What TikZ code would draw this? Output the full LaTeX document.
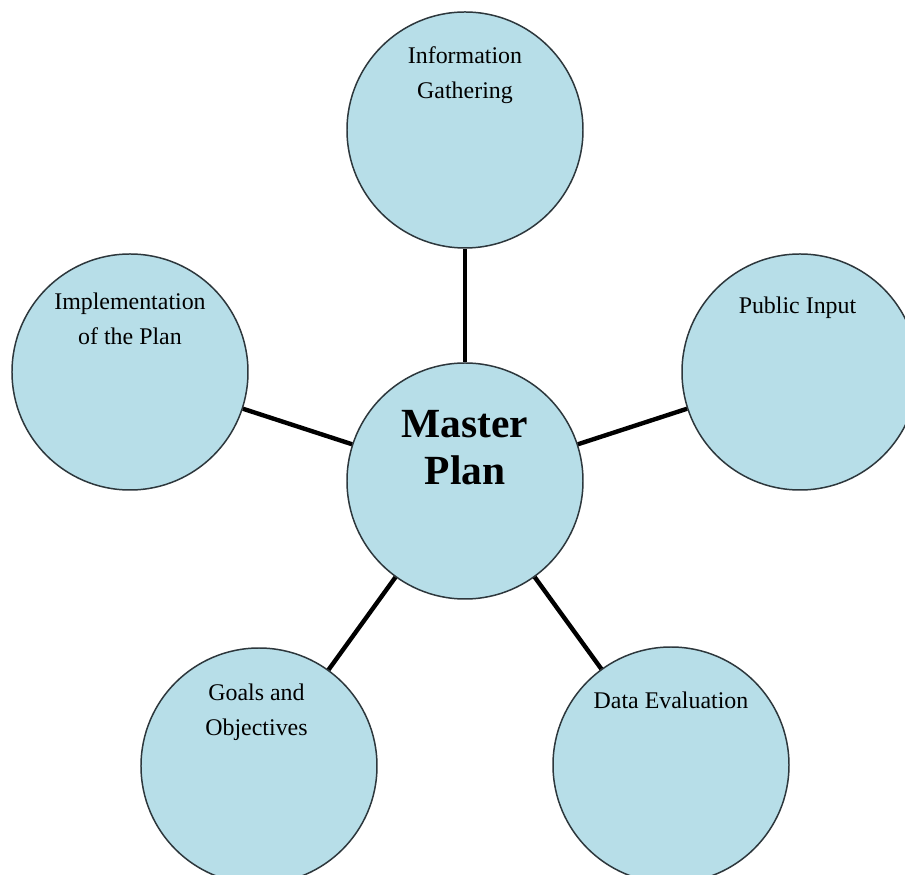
\documentclass[tikz,border=0pt]{standalone}
\usepackage{fontspec}
\setmainfont{Liberation Serif}
\usepackage{xcolor}
\usepackage{tikz}
\definecolor{bubblefill}{RGB}{183,222,232}
\definecolor{bubbleedge}{RGB}{45,55,60}

\begin{document}
\begin{tikzpicture}[
  bubble/.style={circle, fill=bubblefill, draw=bubbleedge, line width=0.85pt,
                 minimum size=4.72cm, inner sep=0pt},
  spoke/.style={line width=2.5pt, black},
  smalltext/.style={align=center, inner sep=0pt,
                 font=\fontsize{13.6}{19.8}\selectfont},
  bigtext/.style={align=center, inner sep=0pt,
                 font=\fontsize{23.6}{26.6}\selectfont\bfseries}]

% Fix the page to the picture
\clip (-9.30,-7.88) rectangle (8.80,9.62);
\fill[white] (-9.30,-7.88) rectangle (8.80,9.62);

% The circles
\node[bubble] (master) at (0,0) {};
\node[bubble] (info)   at (0,7.02) {};
\node[bubble] (impl)   at (-6.70,2.18) {};
\node[bubble] (public) at (6.70,2.18) {};
\node[bubble] (goals)  at (-4.12,-5.70) {};
\node[bubble] (data)   at (4.12,-5.68) {};

% Connect the master plan to the others
\draw[spoke] (master) -- (info);
\draw[spoke] (master) -- (impl);
\draw[spoke] (master) -- (public);
\draw[spoke] (master) -- (goals);
\draw[spoke] (master) -- (data);

% Place the labels
\node[bigtext]   (mastertxt) at ([yshift=0.66cm]master.center) {Master\\Plan};
\node[smalltext] (infotxt)   at ([yshift=1.10cm]info.center) {Information\\Gathering};
\node[smalltext] (impltxt)   at ([yshift=1.06cm]impl.center) {Implementation\\of the Plan};
\node[smalltext] (pubtxt)    at ([xshift=-0.05cm,yshift=1.28cm]public.center) {Public Input};
\node[smalltext] (goalstxt)  at ([xshift=-0.05cm,yshift=1.08cm]goals.center) {Goals and\\Objectives};
\node[smalltext] (datatxt)   at ([yshift=1.30cm]data.center) {Data Evaluation};

\end{tikzpicture}
\end{document}
